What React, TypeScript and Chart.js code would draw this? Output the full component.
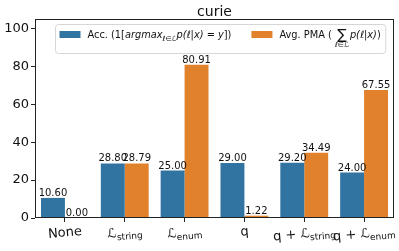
import React, { useEffect, useRef } from "react";
import { Chart, registerables } from "chart.js";

Chart.register(...registerables);

// ---- data ----
const categories = ["None", "ℒ_{string}", "ℒ_{enum}", "q", "q + ℒ_{string}", "q + ℒ_{enum}"];
const accValues = [10.6, 28.8, 25.0, 29.0, 29.2, 24.0];
const pmaValues = [0.0, 28.79, 80.91, 1.22, 34.49, 67.55];
const yTicks = [0, 20, 40, 60, 80, 100];
const yMax = 105;
const chartTitle = "curie";
const accLabel = "Acc. (1[argmax_{ℓ∈ℒ}p(ℓ|x) = y])";
const pmaLabel = "Avg. PMA ( ∑_{ℓ∈ℒ} p(ℓ|x))";

const BLUE = "#3274a1";
const ORANGE = "#e1812c";
const FONT = "'DejaVu Sans', sans-serif";

type Seg = { t: string; size: number; italic?: boolean; dy?: number; sum?: string };

function segWidth(ctx: CanvasRenderingContext2D, s: Seg) {
  ctx.font = `${s.italic ? "italic " : ""}${s.size}px ${FONT}`;
  const w = ctx.measureText(s.t).width;
  if (s.sum) {
    ctx.font = `italic ${s.size * 0.5}px ${FONT}`;
    const w2 = ctx.measureText(s.sum).width;
    return Math.max(w, w2);
  }
  return w;
}

function drawSegs(ctx: CanvasRenderingContext2D, segs: Seg[], x: number, base: number) {
  ctx.textAlign = "left";
  ctx.textBaseline = "alphabetic";
  for (const s of segs) {
    const w = segWidth(ctx, s);
    ctx.font = `${s.italic ? "italic " : ""}${s.size}px ${FONT}`;
    if (s.sum) {
      const ws = ctx.measureText(s.t).width;
      ctx.fillText(s.t, x + (w - ws) / 2, base + (s.dy || 0));
      ctx.font = `italic ${s.size * 0.5}px ${FONT}`;
      const wl = ctx.measureText(s.sum).width;
      ctx.fillText(s.sum, x + (w - wl) / 2, base + 9);
    } else {
      ctx.fillText(s.t, x, base + (s.dy || 0));
    }
    x += w;
  }
  return x;
}

function totalWidth(ctx: CanvasRenderingContext2D, segs: Seg[]) {
  let w = 0;
  for (const s of segs) w += segWidth(ctx, s);
  return w;
}

// parse "main_{sub}" into segments
function labelSegs(label: string, main: number, sub: number): Seg[] {
  const out: Seg[] = [];
  const re = /_\{([^}]*)\}/g;
  let last = 0;
  let m: RegExpExecArray | null;
  while ((m = re.exec(label))) {
    if (m.index > last) out.push({ t: label.slice(last, m.index), size: main });
    out.push({ t: m[1], size: sub, dy: 3 });
    last = m.index + m[0].length;
  }
  if (last < label.length) out.push({ t: label.slice(last), size: main });
  return out;
}

const LS = 9.8;
const accSegs: Seg[] = [
  { t: accLabel.slice(0, 6), size: LS },
  { t: "1", size: LS },
  { t: "[", size: LS },
  { t: "argmax", size: LS, italic: true },
  { t: "ℓ∈ℒ", size: 7, italic: true, dy: 2.5 },
  { t: "p(ℓ|x)", size: LS, italic: true },
  { t: " = ", size: LS },
  { t: "y", size: LS, italic: true },
  { t: "])", size: LS },
];
const pmaSegs: Seg[] = [
  { t: pmaLabel.slice(0, 11), size: LS },
  { t: "∑", size: 14, dy: 1, sum: "ℓ∈ℒ" },
  { t: " ", size: 3 },
  { t: "p(ℓ|x)", size: LS, italic: true },
  { t: ")", size: LS },
];

const customPlugin = {
  id: "customDraw",
  afterDatasetsDraw(chart: any) {
    const ctx: CanvasRenderingContext2D = chart.ctx;
    ctx.save();
    ctx.font = `10px ${FONT}`;
    ctx.fillStyle = "#111";
    ctx.textAlign = "center";
    ctx.textBaseline = "alphabetic";
    chart.data.datasets.forEach((ds: any, di: number) => {
      const meta = chart.getDatasetMeta(di);
      meta.data.forEach((bar: any, i: number) => {
        ctx.fillText(Number(ds.data[i]).toFixed(2), bar.x, bar.y - 2);
      });
    });
    ctx.restore();
  },
  afterDraw(chart: any) {
    const ctx: CanvasRenderingContext2D = chart.ctx;
    const a = chart.chartArea;
    ctx.save();
    // frame
    ctx.strokeStyle = "#222";
    ctx.lineWidth = 1;
    const l = Math.round(a.left) + 0.5;
    const r = Math.round(a.right) - 0.5;
    const t = Math.round(a.top) + 0.5;
    const b = Math.round(a.bottom) - 0.5;
    ctx.strokeRect(l, t, r - l, b - t);

    // title
    ctx.fillStyle = "#111";
    ctx.font = `14px ${FONT}`;
    ctx.textAlign = "center";
    ctx.textBaseline = "alphabetic";
    ctx.fillText(chartTitle, (a.left + a.right) / 2, 16);

    // x tick labels (rotated, with subscripts)
    const xs = chart.scales.x;
    const ang = (5 * Math.PI) / 180;
    categories.forEach((lab, i) => {
      const segs = labelSegs(lab, 13, 9);
      const w = totalWidth(ctx, segs);
      const h = 13;
      const bh = w * Math.sin(ang) + h * Math.cos(ang);
      const cx = xs.getPixelForValue(i);
      const cy = a.bottom + 6 + bh / 2;
      ctx.save();
      ctx.translate(cx, cy);
      ctx.rotate(-ang);
      ctx.fillStyle = "#111";
      drawSegs(ctx, segs, -w / 2, 4.5);
      ctx.restore();
    });

    // legend
    const lx = 55, ly = 24;
    const base = 38;
    const p1x = lx + 4.5;
    const t1x = p1x + 21 + 7;
    const w1 = totalWidth(ctx, accSegs);
    const p2x = t1x + w1 + 20;
    const t2x = p2x + 21 + 7;
    const w2 = totalWidth(ctx, pmaSegs);
    const rx = t2x + w2 + 4.5;
    const lh = 29;
    ctx.beginPath();
    const rad = 3;
    const bx = lx + 0.5, by = ly + 0.5, bw = rx - lx, bhh = lh;
    ctx.moveTo(bx + rad, by);
    ctx.lineTo(bx + bw - rad, by);
    ctx.quadraticCurveTo(bx + bw, by, bx + bw, by + rad);
    ctx.lineTo(bx + bw, by + bhh - rad);
    ctx.quadraticCurveTo(bx + bw, by + bhh, bx + bw - rad, by + bhh);
    ctx.lineTo(bx + rad, by + bhh);
    ctx.quadraticCurveTo(bx, by + bhh, bx, by + bhh - rad);
    ctx.lineTo(bx, by + rad);
    ctx.quadraticCurveTo(bx, by, bx + rad, by);
    ctx.closePath();
    ctx.fillStyle = "rgba(255,255,255,0.8)";
    ctx.fill();
    ctx.strokeStyle = "#d6d6d6";
    ctx.stroke();

    ctx.fillStyle = BLUE;
    ctx.fillRect(p1x, 31, 21, 7);
    ctx.fillStyle = ORANGE;
    ctx.fillRect(p2x, 31, 21, 7);
    ctx.fillStyle = "#111";
    drawSegs(ctx, accSegs, t1x, base);
    drawSegs(ctx, pmaSegs, t2x, base);
    ctx.restore();
  },
};

export default function App() {
  const ref = useRef<HTMLCanvasElement>(null);
  useEffect(() => {
    document.body.style.margin = "0";
    const chart = new Chart(ref.current as HTMLCanvasElement, {
      type: "bar",
      data: {
        labels: categories,
        datasets: [
          {
            label: accLabel,
            data: accValues,
            backgroundColor: BLUE,
            borderWidth: 0,
            categoryPercentage: 0.8,
            barPercentage: 1.0,
          },
          {
            label: pmaLabel,
            data: pmaValues,
            backgroundColor: ORANGE,
            borderWidth: 0,
            categoryPercentage: 0.8,
            barPercentage: 1.0,
          },
        ],
      },
      options: {
        responsive: false,
        animation: false,
        devicePixelRatio: 1,
        layout: { padding: { left: 0, right: 5, top: 19, bottom: 0 } },
        plugins: {
          legend: { display: false },
          title: { display: false },
          tooltip: { enabled: false },
        },
        scales: {
          x: {
            offset: true,
            ticks: { display: false },
            grid: {
              display: true,
              drawOnChartArea: false,
              drawTicks: true,
              tickLength: 4,
              offset: false,
              color: "#222",
            },
            border: { display: false },
            afterFit: (s: any) => {
              s.height = 33;
            },
          },
          y: {
            min: 0,
            max: yMax,
            afterBuildTicks: (s: any) => {
              s.ticks = yTicks.map((v) => ({ value: v }));
            },
            ticks: {
              color: "#111",
              font: { family: "DejaVu Sans", size: 13 },
              padding: 2,
            },
            grid: {
              display: true,
              drawOnChartArea: false,
              drawTicks: true,
              tickLength: 4,
              color: "#222",
            },
            border: { display: false },
            afterFit: (s: any) => {
              s.width = 35;
            },
          },
        },
      },
      plugins: [customPlugin],
    });
    return () => chart.destroy();
  }, []);
  return (
    <div style={{ position: "absolute", left: 0, top: 0, width: 399, height: 251 }}>
      <canvas ref={ref} width={399} height={251} />
    </div>
  );
}
